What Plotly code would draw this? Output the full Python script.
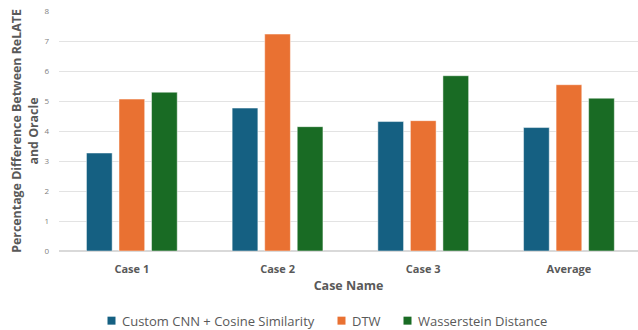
import plotly.graph_objects as go

categories = ["Case 1", "Case 2", "Case 3", "Average"]
series_names = ["Custom CNN + Cosine Similarity", "DTW", "Wasserstein Distance"]
cnn_values = [3.27, 4.77, 4.32, 4.12]
dtw_values = [5.07, 7.24, 4.35, 5.55]
wass_values = [5.30, 4.15, 5.85, 5.10]
colors = ["#156082", "#E97132", "#196B24"]
y_ticks = [0, 1, 2, 3, 4, 5, 6, 7, 8]

W, H = 638, 330
L, R, T = 59, 0, 11
B = H - 251.5
plot_w = W - L - R
plot_h = H - T - B

def px_x(p):  # p in window pixels
    return (p - L) / plot_w

def px_y(p):
    return (H - B - p) / plot_h

fig = go.Figure()
for name, vals, col in zip(series_names, [cnn_values, dtw_values, wass_values], colors):
    fig.add_trace(go.Bar(
        x=categories, y=vals, name=name,
        marker=dict(color=col, line=dict(color="rgba(255,255,255,0.6)", width=0.8)),
    ))

font_family = "Open Sans, Lato, sans-serif"

# compact legend (small squares like the reference)
legend_pos = [(107.5, 119.5), (337.5, 350), (403.5, 415.5)]
shapes, annotations = [], []
for (sq_x, tx_x), name, col in zip(legend_pos, series_names, colors):
    shapes.append(dict(type="rect", xref="paper", yref="paper",
                       x0=px_x(sq_x), x1=px_x(sq_x + 8),
                       y0=px_y(325.3), y1=px_y(317.3),
                       fillcolor=col, line=dict(width=0)))
    annotations.append(dict(text=name, xref="paper", yref="paper",
                            x=px_x(tx_x), y=px_y(321.3), xanchor="left", yanchor="middle",
                            showarrow=False, font=dict(size=13, color="#595959", family=font_family)))

fig.update_layout(
    width=W, height=H,
    margin=dict(l=L, r=R, t=T, b=B),
    paper_bgcolor="white", plot_bgcolor="white",
    barmode="group", bargap=0.33, bargroupgap=0.21,
    font=dict(family=font_family, color="#595959"),
    showlegend=False,
    shapes=shapes, annotations=annotations,
    xaxis=dict(
        range=[-0.5, 3.474], automargin=False,
        showgrid=False, showline=False, ticks="",
        ticklabelstandoff=10,
        tickfont=dict(size=11, color="#595959", family=font_family, weight="bold"),
        title=dict(text="<b>Case Name</b>", font=dict(size=12.5, color="#595959"), standoff=6),
    ),
    yaxis=dict(
        range=[0, 8.01], tickvals=y_ticks, automargin=False,
        ticklabeloverflow="allow",
        showgrid=True, gridcolor="#e3e3e3", gridwidth=1.3,
        zeroline=True, zerolinecolor="#d9d9d9", zerolinewidth=1.5,
        tickfont=dict(size=8, color="#7f7f7f"),
        ticks="", ticklabelstandoff=9,
        title=dict(text="<b>Percentage Difference Between ReLATE<br>and Oracle</b>",
                   font=dict(size=12.4, color="#595959"), standoff=3),
    ),
)
fig.write_html("out.html", config={"displayModeBar": False},
               post_script="document.body.style.margin='0';")
